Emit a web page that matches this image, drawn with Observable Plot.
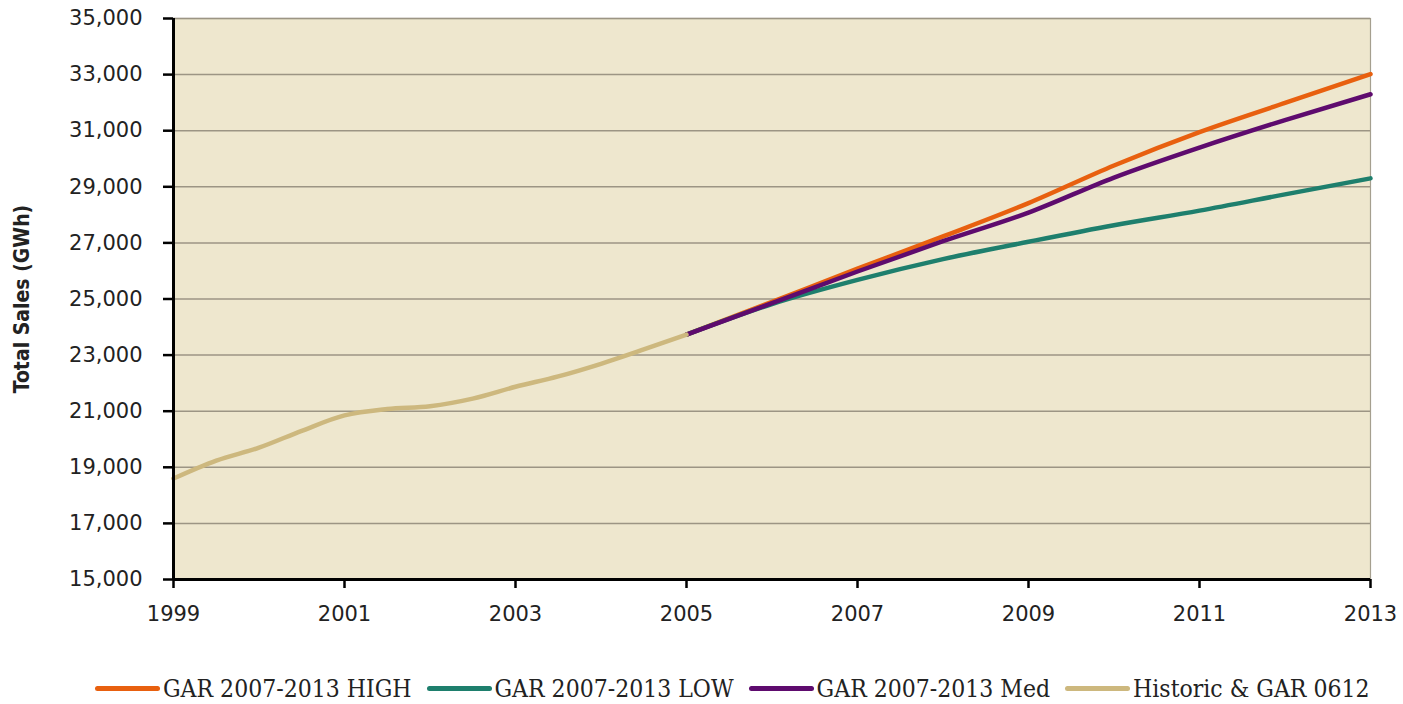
<!DOCTYPE html>
<html>
<head>
<meta charset="utf-8">
<script src="https://cdn.jsdelivr.net/npm/d3@7"></script>
<script src="https://cdn.jsdelivr.net/npm/@observablehq/plot@0.6"></script>
<style>
  html, body { margin: 0; padding: 0; background: #fff; }
  #chart { position: relative; width: 1403px; height: 704px; }
  #legend { position: absolute; left: 95px; top: 674px; display: flex; align-items: center; white-space: nowrap;
    font-family: "DejaVu Serif Condensed", "DejaVu Serif", serif; font-size: 24.5px; color: #222; }
  .item { display: flex; align-items: center; margin-right: 15px; }
  .sw { width: 65px; height: 5px; border-radius: 3px; margin-right: 3px; }
</style>
</head>
<body>
<div id="chart"><div id="plot"></div><div id="legend"></div></div>
<script>
// Historic & GAR 0612
const historicYears  = [1999, 1999.5, 2000, 2000.5, 2001, 2001.5, 2002, 2002.5, 2003, 2003.5, 2004, 2004.5, 2005];
const historicValues = [18600, 19240, 19700, 20300, 20850, 21080, 21180, 21450, 21870, 22240, 22690, 23200, 23730];
// GAR 2007-2013 forecasts
const forecastYears = [2005, 2006, 2007, 2008, 2009, 2010, 2011, 2012, 2013];
const highValues = [23730, 24900, 26080, 27230, 28420, 29760, 30950, 31990, 33020];
const lowValues  = [23730, 24820, 25680, 26420, 27040, 27630, 28150, 28730, 29300];
const medValues  = [23730, 24850, 25980, 27060, 28080, 29330, 30400, 31380, 32300];

const seriesNames  = ["GAR 2007-2013 HIGH", "GAR 2007-2013 LOW", "GAR 2007-2013 Med", "Historic & GAR 0612"];
const seriesColors = ["#E8600F", "#1E7F6D", "#5E0B6E", "#CDB87E"];

const yTicks = [15000, 17000, 19000, 21000, 23000, 25000, 27000, 29000, 31000, 33000, 35000];
const xTicks = [1999, 2001, 2003, 2005, 2007, 2009, 2011, 2013];

const rows = [];
forecastYears.forEach((y, i) => rows.push({series: seriesNames[0], year: y, value: highValues[i]}));
forecastYears.forEach((y, i) => rows.push({series: seriesNames[1], year: y, value: lowValues[i]}));
forecastYears.forEach((y, i) => rows.push({series: seriesNames[2], year: y, value: medValues[i]}));
historicYears.forEach((y, i) => rows.push({series: seriesNames[3], year: y, value: historicValues[i]}));

const plot = Plot.plot({
  width: 1403,
  height: 640,
  marginLeft: 173,
  marginRight: 33,
  marginTop: 18,
  marginBottom: 61,
  style: {fontFamily: "'DejaVu Sans', Verdana, sans-serif", fontSize: "21px", color: "#222", background: "transparent"},
  x: {domain: [1999, 2013]},
  y: {domain: [15000, 35000]},
  color: {domain: seriesNames, range: seriesColors},
  marks: [
    Plot.frame({fill: "#EEE7CE", stroke: "#A59F8F", strokeWidth: 1.2}),
    Plot.gridY(yTicks, {stroke: "#9C9584", strokeOpacity: 1, strokeWidth: 1.5}),
    Plot.line(rows, {x: "year", y: "value", z: "series", stroke: "series", strokeWidth: 4.5, curve: "monotone-x"}),
    Plot.ruleX([1999], {stroke: "#000", strokeWidth: 3}),
    Plot.ruleY([15000], {stroke: "#000", strokeWidth: 3}),
    Plot.axisY(yTicks, {tickFormat: d3.format(","), tickSize: 10, tickPadding: 21, stroke: "#000", strokeWidth: 2.5, label: null, fontSize: 21}),
    Plot.axisX(xTicks, {tickFormat: d => String(d), tickSize: 9, tickPadding: 18, stroke: "#000", strokeWidth: 2.5, label: null, fontSize: 21}),
    Plot.text(["Total Sales (GWh)"], {frameAnchor: "left", textAnchor: "middle", dx: -151, rotate: -90, fontWeight: "bold", fontSize: 21, fontFamily: "'DejaVu Sans Condensed', 'DejaVu Sans', sans-serif", fill: "#222"})
  ]
});
document.getElementById("plot").appendChild(plot);

const legend = document.getElementById("legend");
seriesNames.forEach((name, i) => {
  const item = document.createElement("div");
  item.className = "item";
  const sw = document.createElement("span");
  sw.className = "sw";
  sw.style.background = seriesColors[i];
  const label = document.createElement("span");
  label.textContent = name;
  item.appendChild(sw);
  item.appendChild(label);
  legend.appendChild(item);
});
</script>
</body>
</html>
